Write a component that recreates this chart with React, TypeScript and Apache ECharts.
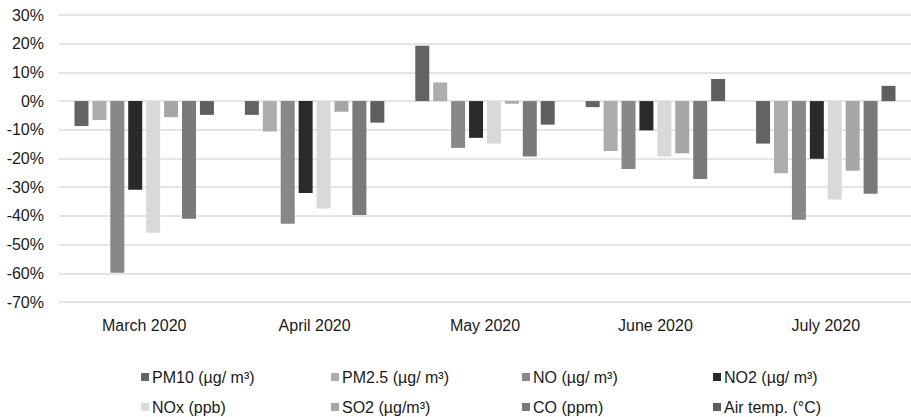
import React, { useEffect, useRef } from "react";
import * as echarts from "echarts";

const categories = ["March 2020", "April 2020", "May 2020", "June 2020", "July 2020"];
const seriesNames = [
  "PM10 (µg/ m³)",
  "PM2.5 (µg/ m³)",
  "NO (µg/ m³)",
  "NO2 (µg/ m³)",
  "NOx (ppb)",
  "SO2 (µg/m³)",
  "CO (ppm)",
  "Air temp. (°C)",
];
const pm10 = [-8.7, -4.8, 19.3, -2.1, -14.8];
const pm25 = [-6.6, -10.6, 6.5, -17.4, -25.1];
const no = [-59.8, -42.7, -16.3, -23.7, -41.3];
const no2 = [-30.9, -32.0, -12.8, -10.2, -20.1];
const nox = [-45.9, -37.4, -14.8, -19.3, -34.3];
const so2 = [-5.6, -3.7, -0.9, -18.2, -24.3];
const co = [-41.0, -39.7, -19.3, -27.1, -32.3];
const airTemp = [-4.8, -7.5, -8.2, 7.7, 5.3];
const seriesValues = [pm10, pm25, no, no2, nox, so2, co, airTemp];
const colors = ["#636363", "#adadad", "#888888", "#2a2a2a", "#d9d9d9", "#a6a6a6", "#7a7a7a", "#5f5f5f"];

const FONT = "'Liberation Sans', Arial, sans-serif";

export default function App() {
  const ref = useRef<HTMLDivElement>(null);
  useEffect(() => {
    document.body.style.margin = "0";
    if (!ref.current) return;
    const chart = echarts.init(ref.current, undefined, { renderer: "svg" });
    const legendLefts = [141, 331, 522, 713];
    const legendTops = [369, 399];
    const legends = seriesNames.map((name, i) => ({
      data: [name],
      left: legendLefts[i % 4],
      top: legendTops[Math.floor(i / 4)],
      itemWidth: 8,
      itemHeight: 8,
      icon: "rect",
      padding: 0,
      textStyle: { fontFamily: FONT, fontSize: 16, color: "#1a1a1a", padding: [0, 0, 0, -2] },
    }));
    chart.setOption({
      animation: false,
      color: colors,
      textStyle: { fontFamily: FONT },
      grid: { left: 59, right: 0, top: 15, height: 287, containLabel: false },
      legend: legends,
      xAxis: {
        type: "category",
        data: categories,
        axisLine: { show: false },
        axisTick: { show: false },
        axisLabel: { fontFamily: FONT, fontSize: 16, color: "#1a1a1a", margin: 15 },
      },
      yAxis: {
        type: "value",
        min: -70,
        max: 30,
        interval: 10,
        axisLine: { show: false },
        axisTick: { show: false },
        axisLabel: { fontFamily: FONT, fontSize: 16, color: "#1a1a1a", margin: 15, formatter: "{value}%" },
        splitLine: { lineStyle: { color: "#dcdcdc", width: 1.5 } },
      },
      series: seriesNames.map((name, i) => ({
        name,
        type: "bar",
        data: seriesValues[i],
        barWidth: 14,
        barGap: "28%",
        barCategoryGap: "17.6%",
        itemStyle: { color: colors[i] },
      })),
    });
    return () => chart.dispose();
  }, []);
  return <div ref={ref} style={{ width: 911, height: 417 }} />;
}
